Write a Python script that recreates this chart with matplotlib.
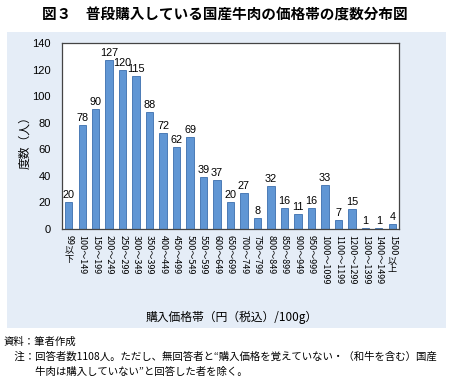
import matplotlib
matplotlib.use("Agg")
import matplotlib.pyplot as plt

plt.rcParams['font.family'] = ['Noto Sans CJK JP', 'DejaVu Sans']

categories = ["99以下", "100～149", "150～199", "200～249", "250～299", "300～349",
              "350～399", "400～449", "450～499", "500～549", "550～599", "600～649",
              "650～699", "700～749", "750～799", "800～849", "850～899", "900～949",
              "950～999", "1000～1099", "1100～1199", "1200～1299", "1300～1399",
              "1400～1499", "1500以上"]
values = [20, 78, 90, 127, 120, 115, 88, 72, 62, 69, 39, 37, 20, 27, 8, 32, 16, 11,
          16, 33, 7, 15, 1, 1, 4]
yticks = [0, 20, 40, 60, 80, 100, 120, 140]

title = "図３　普段購入している国産牛肉の価格帯の度数分布図"
ylabel = "度数（人）"
xlabel = "購入価格帯（円（税込）/100g）"
notes = ["資料：筆者作成",
         "　注：回答者数1108人。ただし、無回答者と“購入価格を覚えていない・（和牛を含む）国産",
         "　　　牛肉は購入していない”と回答した者を除く。"]

numfont = ['Liberation Sans', 'DejaVu Sans']
upright = ("以下", "以上")

fig = plt.figure(figsize=(4.5, 3.87), dpi=100)
fig.patch.set_facecolor('white')
bg = fig.add_axes([7/450, 1-328/387, 439/450, 296/387])
bg.set_facecolor('#e5edf7')
bg.set_xticks([]); bg.set_yticks([])
for s in bg.spines.values():
    s.set_visible(False)
bg.set_zorder(0)

ax = fig.add_axes([62/450, 1-229/387, 337/450, 186/387])
ax.set_zorder(1)
ax.set_facecolor('white')
x = list(range(len(values)))
ax.bar(x, values, width=0.55, color='#6096d4', edgecolor='#3c6fae', linewidth=0.6)
for xi, v in zip(x, values):
    ax.text(xi, v + 1.5, str(v), ha='center', va='bottom', fontsize=7.8, family=numfont)
ax.set_xlim(-0.5, len(values) - 0.5)
ax.set_ylim(0, 140)
ax.set_yticks(yticks)
ax.set_yticklabels([str(t) for t in yticks], fontsize=8, family=numfont)

# tick labels: numbers rotated, trailing 以下/以上 kept upright (vertical writing)
ticklabels = []
suffixes = []
for c in categories:
    suf = next((u for u in upright if c.endswith(u)), None)
    if suf:
        ticklabels.append(c[:-len(suf)])
        suffixes.append(suf)
    else:
        ticklabels.append(c)
        suffixes.append(None)
ax.set_xticks(x)
ax.set_xticklabels(ticklabels, rotation=-90, fontsize=6.5, va='top', ha='center')
ax.tick_params(axis='both', length=0, pad=4)
ax.tick_params(axis='y', pad=8)
for s in ax.spines.values():
    s.set_color('#444444')
    s.set_linewidth(0.9)

fig.canvas.draw()
renderer = fig.canvas.get_renderer()
inv = fig.transFigure.inverted()
for lab, suf in zip(ax.get_xticklabels(), suffixes):
    if suf:
        bb = lab.get_window_extent(renderer)
        xf, yf = inv.transform(((bb.x0 + bb.x1) / 2, bb.y0 - 1))
        fig.text(xf, yf, "\n".join(suf), ha='center', va='top', fontsize=6.5,
                 linespacing=1.0, zorder=5)

fig.text(25/450, 1-140/387, ylabel, rotation=90, ha='center', va='center', fontsize=8.5)
fig.text(232/450, 1-317/387, xlabel, ha='center', va='center', fontsize=8.5)
fig.text(225/450, 1-15/387, title, ha='center', va='center', fontsize=10.5, fontweight='bold')
for i, n in enumerate(notes):
    fig.text(4/450, 1-(342 + 15*i)/387, n, ha='left', va='center', fontsize=7.5)

fig.savefig("out.png", dpi=100, facecolor='white')
